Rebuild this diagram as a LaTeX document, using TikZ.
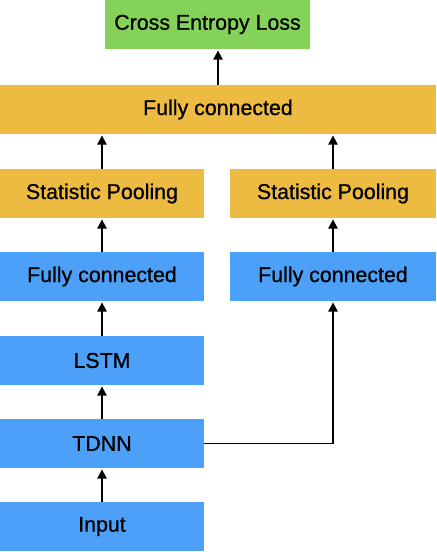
\documentclass[tikz,border=0pt]{standalone}
\usepackage{fontspec}
\setmainfont{Liberation Sans}
\newfontfamily\boxfont[FakeBold=0.7]{Liberation Sans}
\usepackage{tikz}
\usetikzlibrary{arrows.meta}

\definecolor{lossgreen}{RGB}{132,211,88}
\definecolor{poolorange}{RGB}{237,187,66}
\definecolor{layerblue}{RGB}{76,160,248}

\begin{document}
\begin{tikzpicture}[
	box/.style={inner sep=0, outer sep=0, minimum height=1.225cm, font=\boxfont\fontsize{15.2}{18}\selectfont},
	greenbox/.style={box, fill=lossgreen, minimum width=5.125cm},
	orangebox/.style={box, fill=poolorange, minimum width=5.1cm},
	bluebox/.style={box, fill=layerblue, minimum width=5.1cm},
	link/.style={->, line width=1.4pt, shorten >=1pt},
	>={Triangle[width=6.5pt,length=6.5pt]}
	]

	\useasboundingbox (0, 0) rectangle (10.9, 13.8);

	% left branch
	\node [bluebox] (input) at (2.55, 0.6375) {Input};
	\node [bluebox] (tdnn) at (2.55, 2.7125) {TDNN};
	\node [bluebox] (lstm) at (2.55, 4.7875) {LSTM};
	\node [bluebox] (fcL) at (2.55, 6.8875) {Fully connected};
	\node [orangebox] (poolL) at (2.55, 8.9625) {Statistic Pooling};

	% right branch
	\node [bluebox, minimum width=5.15cm] (fcR) at (8.325, 6.8875) {Fully connected};
	\node [orangebox, minimum width=5.15cm] (poolR) at (8.325, 8.9625) {Statistic Pooling};

	% top
	\node [orangebox, minimum width=10.9cm] (fc) at (5.45, 11.0625) {Fully connected};
	\node [greenbox] (loss) at (5.1875, 13.1875) {Cross Entropy Loss};

	\draw [link] (input) -- (tdnn);
	\draw [link] (tdnn) -- (lstm);
	\draw [link] (lstm) -- (fcL);
	\draw [link] (fcL) -- (poolL);
	\draw [link] (poolL) -- (poolL |- fc.south);

	\draw [link] (tdnn.east) -| (fcR.south);
	\draw [link] (fcR) -- (poolR);
	\draw [link] (poolR) -- (poolR |- fc.south);

	\draw [link] (fc.north) -- (fc.north |- loss.south);

\end{tikzpicture}
\end{document}
